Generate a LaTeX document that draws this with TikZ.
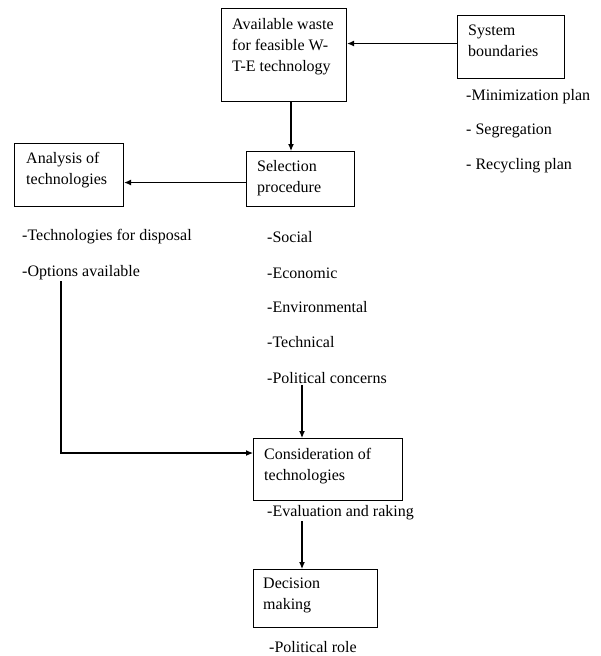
\documentclass[tikz,border=0pt]{standalone}
\usepackage{fontspec}
\setmainfont{Liberation Serif}
\usetikzlibrary{arrows.meta}
\begin{document}
\begin{tikzpicture}[x=1pt,y=-1pt,
  box/.style={draw,line width=1.1pt,anchor=north west,inner sep=0pt},
  txt/.style={font=\fontsize{16}{21}\selectfont,align=left,inner sep=0pt,anchor=north west},
  item/.style={font=\fontsize{16}{21}\selectfont,inner sep=1pt,anchor=west},
  arr/.style={line width=1.1pt,-{Latex[length=7pt,width=6pt]}}]
\useasboundingbox (0,0) rectangle (600,656);
\node[box,minimum width=125pt,minimum height=93pt] (waste) at (221,8) {};
\node[box,minimum width=107pt,minimum height=63pt] (sysb) at (457,15) {};
\node[box,minimum width=108pt,minimum height=55pt] (sel) at (246,151) {};
\node[box,minimum width=109pt,minimum height=63pt] (ana) at (14,143) {};
\node[box,minimum width=149pt,minimum height=62pt] (cons) at (253,438) {};
\node[box,minimum width=124pt,minimum height=58pt] (dec) at (253,569) {};

\node[txt] (wastetxt) at ([shift={(11,10)}]waste.north west) {Available waste\\for feasible W-\\T-E technology};
\node[txt] (sysbtxt) at ([shift={(11,10)}]sysb.north west) {System\\boundaries};
\node[txt] (seltxt) at ([shift={(11,9)}]sel.north west) {Selection\\procedure};
\node[txt] (anatxt) at ([shift={(12,9)}]ana.north west) {Analysis of\\technologies};
\node[txt] (constxt) at ([shift={(11,10)}]cons.north west) {Consideration of\\technologies};
\node[txt] (dectxt) at ([shift={(10,9)}]dec.north west) {Decision\\making};

\node[item] (minp) at (465,97) {-Minimization plan};
\node[item] (segr) at (465,131) {- Segregation};
\node[item] (recp) at (465,166) {- Recycling plan};
\node[item] (disp) at (21,237) {-Technologies for disposal};
\node[item] (opts) at (21,273) {-Options available};
\node[item] (soc) at (266,237) {-Social};
\node[item] (eco) at (266,273) {-Economic};
\node[item] (env) at (266,307) {-Environmental};
\node[item] (tec) at (266,342) {-Technical};
\node[item] (pol) at (266,378) {-Political concerns};
\node[item] (evl) at (266,513) {-Evaluation and raking};
\node[item] (prl) at (268,647) {-Political role};

\coordinate (colA) at (302,0);
\coordinate (colB) at (291,0);
\coordinate (bend) at (61,453);

\draw[arr] ([yshift=3.5pt]sysb.west) -- ([yshift=3.5pt]sysb.west -| waste.east);
\draw[arr] (waste.south -| colB) -- (sel.north -| colB);
\draw[arr] ([yshift=-3.5pt]sel.west) -- ([yshift=-3.5pt]sel.west -| ana.east);
\draw[arr] (opts.south -| bend) -- (bend) -- (bend -| cons.west);
\draw[arr] (pol.south -| colA) -- (cons.north -| colA);
\draw[arr] (evl.south -| colA) -- (dec.north -| colA);

\end{tikzpicture}
\end{document}
